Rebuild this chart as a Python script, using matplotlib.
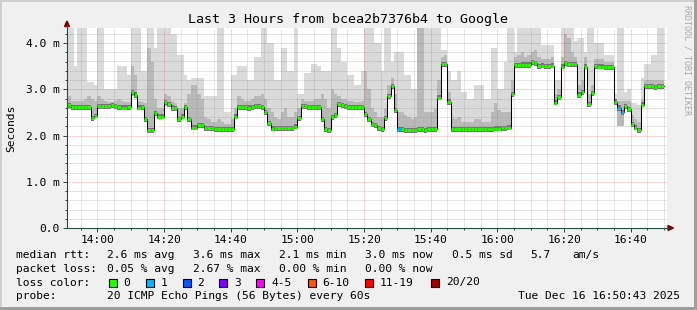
import numpy as np
import matplotlib
matplotlib.use('Agg')
import matplotlib.pyplot as plt
from matplotlib.patches import Rectangle, Polygon
from matplotlib.lines import Line2D

# one value per minute, first minute starts 13:51 (t = -9 min from 14:00)
F = 4.4  # smoke clipped at top of graph

median_ms = [
    2.66, 2.61, 2.61, 2.61, 2.61, 2.61, 2.61, 2.37, 2.42, 2.64,
    2.64, 2.64, 2.64, 2.65, 2.63, 2.62, 2.60, 2.60, 2.61, 2.93,
    2.88, 2.60, 2.61, 2.36, 2.12, 2.12, 2.49, 2.41, 2.41, 2.72,
    2.68, 2.60, 2.59, 2.36, 2.41, 2.61, 2.36, 2.17, 2.17, 2.23,
    2.23, 2.16, 2.16, 2.16, 2.14, 2.14, 2.14, 2.14, 2.14, 2.14,
    2.41, 2.62, 2.62, 2.61, 2.60, 2.62, 2.63, 2.63, 2.62, 2.51,
    2.26, 2.15, 2.16, 2.16, 2.16, 2.16, 2.16, 2.16, 2.19, 2.37,
    2.63, 2.63, 2.62, 2.62, 2.62, 2.62, 2.36, 2.14, 2.11, 2.39,
    2.44, 2.68, 2.65, 2.64, 2.62, 2.61, 2.61, 2.61, 2.62, 2.46,
    2.35, 2.24, 2.22, 2.16, 2.14, 2.37, 2.85, 3.06, 2.55, 2.14,
    2.13, 2.12, 2.12, 2.11, 2.12, 2.14, 2.13, 2.12, 2.13, 2.13,
    2.13, 2.82, 3.55, 3.54, 2.73, 2.13, 2.13, 2.14, 2.14, 2.13,
    2.14, 2.14, 2.13, 2.14, 2.14, 2.14, 2.14, 2.14, 2.15, 2.15,
    2.16, 2.16, 2.17, 2.90, 3.52, 3.52, 3.53, 3.53, 3.53, 3.58,
    3.57, 3.50, 3.51, 3.50, 3.50, 3.51, 2.71, 2.83, 3.49, 3.56,
    3.55, 3.55, 3.54, 2.88, 2.94, 3.49, 2.68, 2.91, 3.50, 3.49,
    3.49, 3.48, 3.48, 3.48, 2.73, 2.60, 2.51, 2.64, 2.57, 2.24,
    2.17, 2.12, 2.67, 3.07, 3.06, 3.06, 3.05, 3.06, 3.06,
]

smoke_top = [
    F, F, 3.5, F, F, F, 3.15, 3.15, 3.1, F,
    F, 3.0, 3.0, 3.0, 3.0, 3.5, 3.5, 3.5, 3.3, F,
    F, F, 3.4, 3.4, F, F, 3.9, F, F, F,
    F, 4.2, 4.2, 3.75, 3.75, 3.3, 3.2, 3.25, 3.25, 3.25,
    3.25, 2.85, 2.85, 2.85, 2.85, F, F, 2.5, 2.5, 3.3,
    3.3, 3.5, 3.5, 3.5, 3.2, 3.2, 3.7, 3.7, F, F,
    4.0, 4.0, 3.2, 3.2, 3.9, 3.9, 3.4, 3.4, F, 2.9,
    2.9, 3.35, 3.35, 3.55, 3.55, 3.5, 3.4, 3.4, 3.4, F,
    F, 3.9, 3.6, 3.6, 3.3, 3.3, 3.1, 3.1, 3.4, F,
    F, F, 4.0, 4.0, 3.4, F, F, 3.6, 3.8, 3.8,
    3.8, 3.3, 3.3, 3.0, 3.0, F, F, F, F, F,
    F, F, 3.85, 3.85, 3.4, 3.2, 3.2, 3.4, 2.95, 2.95,
    2.8, 2.8, 3.1, 3.1, 3.1, 2.8, 2.8, 3.9, 3.9, 3.0,
    3.0, 3.6, F, F, 3.8, F, F, F, F, F,
    F, F, 3.95, 3.95, 3.95, 3.95, 3.2, 3.2, F, F,
    F, F, 4.05, 4.1, 4.1, 3.8, F, F, 4.0, 4.0,
    4.0, 3.75, 3.75, 3.75, 2.9, F, F, 2.95, 3.0, 2.7,
    2.7, 2.65, 3.25, 3.55, 3.55, 3.75, 3.75, F, F,
]

smoke_mid = [
    2.85, 2.75, 2.75, 2.75, 2.75, 2.8, 2.85, 2.8, 2.75, 2.85,
    2.8, 2.75, 2.72, 2.72, 2.75, 2.8, 2.75, 2.72, 2.72, 3.5,
    3.3, 2.75, 2.72, 2.7, 3.9, 3.6, 2.8, 2.6, 2.6, 2.9,
    2.85, 2.75, 2.7, 2.6, 2.6, 2.7, 2.9, 3.1, 3.1, 2.9,
    2.8, 2.4, 2.35, 2.3, 2.3, 2.35, 2.3, 2.25, 2.25, 2.35,
    2.6, 2.85, 2.8, 2.75, 2.75, 2.8, 2.85, 2.85, 2.9, 2.8,
    2.6, 2.5, 2.4, 2.35, 2.5, 2.6, 2.4, 2.4, 2.5, 2.6,
    2.8, 2.75, 2.75, 2.75, 2.8, 2.8, 2.9, 2.8, 2.6, 3.0,
    2.9, 2.85, 2.8, 2.8, 2.75, 2.75, 2.72, 2.72, 2.75, 3.4,
    3.0, 2.6, 2.5, 2.4, 2.4, 2.6, 3.1, 3.25, 2.9, 2.5,
    2.5, 2.45, 2.4, 2.35, 2.4, F, F, 2.5, 2.5, 2.5,
    2.6, 3.2, 3.7, 3.75, 2.95, 2.4, 2.35, 2.4, 2.3, 2.3,
    2.3, 2.3, 2.35, 2.35, 2.3, 2.3, 2.3, 2.5, 2.7, 2.55,
    2.5, 2.5, 2.5, 3.2, 3.7, 3.75, 3.8, 3.7, 3.75, 3.8,
    3.85, 3.7, 3.65, 3.65, 3.65, 3.7, 2.9, 3.0, 3.7, 4.2,
    4.1, 3.8, 3.7, 3.1, 3.2, 3.7, 2.9, 3.1, 3.65, 3.65,
    3.65, 3.6, 3.6, 3.6, 2.8, 2.75, 2.75, 2.75, 2.75, 2.45,
    2.35, 2.3, 2.8, 3.2, 3.2, 3.2, 3.2, 3.2, 3.2,
]

smoke_low = [
    2.58, 2.55, 2.55, 2.55, 2.55, 2.55, 2.55, 2.32, 2.37, 2.58,
    2.58, 2.58, 2.58, 2.59, 2.57, 2.56, 2.55, 2.55, 2.55, 2.85,
    2.82, 2.55, 2.55, 2.30, 2.06, 2.06, 2.42, 2.35, 2.35, 2.64,
    2.62, 2.54, 2.53, 2.30, 2.35, 2.55, 2.30, 2.11, 2.11, 2.16,
    2.16, 2.10, 2.10, 2.10, 2.08, 2.08, 2.08, 2.08, 2.08, 2.08,
    2.35, 2.56, 2.56, 2.55, 2.54, 2.56, 2.57, 2.57, 2.56, 2.45,
    2.20, 2.09, 2.10, 2.10, 2.10, 2.10, 2.10, 2.10, 2.13, 2.31,
    2.57, 2.57, 2.56, 2.56, 2.56, 2.56, 2.30, 2.08, 2.05, 2.33,
    2.38, 2.62, 2.59, 2.58, 2.56, 2.55, 2.55, 2.55, 2.56, 2.40,
    2.29, 2.18, 2.16, 2.10, 2.08, 2.31, 2.79, 3.00, 2.49, 2.08,
    2.07, 2.06, 2.06, 2.05, 2.06, 2.08, 2.07, 2.06, 2.07, 2.07,
    2.07, 2.76, 3.49, 3.48, 2.67, 2.07, 2.07, 2.08, 2.08, 2.07,
    2.08, 2.08, 2.07, 2.08, 2.08, 2.08, 2.08, 2.08, 2.09, 2.09,
    2.10, 2.10, 2.11, 2.84, 3.46, 3.46, 3.47, 3.47, 3.47, 3.52,
    3.51, 3.44, 3.45, 3.44, 3.44, 3.45, 2.65, 2.77, 3.43, 3.50,
    3.49, 3.49, 3.48, 2.82, 2.88, 3.43, 2.62, 2.85, 3.44, 3.43,
    3.43, 3.42, 3.42, 3.42, 2.67, 2.20, 2.20, 2.58, 2.51, 2.18,
    2.11, 2.06, 2.61, 3.01, 3.00, 3.00, 2.99, 3.00, 3.00,
]

# minutes (index) where 1 of 20 pings was lost
loss_1_of_20 = [99, 165, 166]

tick_times = [0, 20, 40, 60, 80, 100, 120, 140, 160]
tick_labels = ['14:00', '14:20', '14:40', '15:00', '15:20', '15:40', '16:00', '16:20', '16:40']
y_ticks = [0, 1, 2, 3, 4]
y_labels = ['0.0', '1.0 m', '2.0 m', '3.0 m', '4.0 m']

loss_names = ['0', '1', '2', '3', '4-5', '6-10', '11-19', '20/20']
loss_colors = ['#26ff00', '#00b8ff', '#0059ff', '#7e00ff', '#ff00ff', '#ff5500', '#ff0000', '#a00000']

W, H = 697, 310
MONO = 'DejaVu Sans Mono'

fig = plt.figure(figsize=(W / 100, H / 100), dpi=100, facecolor='#f0f0f0')


def fx(x):
    return x / W


def fy(y):
    return 1 - y / H


ax = fig.add_axes([fx(66.5), fy(228), 600 / W, 200 / H])
ax.set_facecolor('white')
ax.set_xlim(-9.28, 170.72)
ax.set_ylim(0, 200 / 46.25)
for s in ax.spines.values():
    s.set_visible(False)

n = len(median_ms)
edges = np.arange(n + 1) - 9.0
med = np.array(median_ms)
low = np.array(smoke_low)


def ext(a):
    a = np.asarray(a, dtype=float)
    return np.append(a, a[-1])


# smoke
ax.fill_between(edges, ext(low), ext(smoke_top), step='post', color='#dadada', lw=0, zorder=1)
ax.fill_between(edges, ext(low), ext(smoke_mid), step='post', color='#b9b9b9', lw=0, zorder=2)
ax.fill_between(edges, ext(np.maximum(low, med - 0.06)), ext(med + 0.05), step='post',
                color='#757575', lw=0, zorder=3)

# grid (drawn over the smoke, like rrdtool)
minor_c = (0x8f / 255, 0x8f / 255, 0x8f / 255, 0.46)
major_c = (0xde / 255, 0x50 / 255, 0x50 / 255, 0.46)
for t in np.arange(-5, 171, 5):
    if t % 20:
        ax.axvline(t, color=minor_c, lw=0.72, ls=(0, (1, 1)), zorder=4)
for v in np.arange(0.2, 4.31, 0.2):
    if abs(v - round(v)) > 0.01:
        ax.axhline(v, color=minor_c, lw=0.72, ls=(0, (1, 1)), zorder=4)
for t in tick_times:
    ax.axvline(t, color=major_c, lw=0.72, ls=(0, (1, 1)), zorder=4)
for v in y_ticks[1:]:
    ax.axhline(v, color=major_c, lw=0.72, ls=(0, (1, 1)), zorder=4)

# median line
ax.step(edges, ext(med), where='post', color='black', lw=0.75, zorder=5)
seg_colors = [loss_colors[1] if i in loss_1_of_20 else loss_colors[0] for i in range(n)]
ax.hlines(med, edges[:-1], edges[1:], colors=seg_colors, lw=2.0, zorder=6, capstyle='butt')

# ticks
ax.set_xticks(tick_times)
ax.set_xticklabels(tick_labels, fontfamily=MONO, fontsize=8.1)
ax.set_xticks(np.arange(-5, 171, 5), minor=True)
ax.set_yticks(y_ticks)
ax.set_yticklabels(y_labels, fontfamily=MONO, fontsize=8.1)
ax.set_yticks(np.arange(0, 4.31, 0.2), minor=True)
ax.tick_params(which='major', length=3, width=0.72, color='#2c4d43', pad=2)
ax.tick_params(which='minor', length=1.5, width=0.72, color='#2c4d43')

# axes with arrows
axis_c = '#2c4d43'
fig.add_artist(Line2D([fx(67), fx(67)], [fy(228), fy(25)], color=axis_c, lw=0.8))
fig.add_artist(Line2D([fx(67), fx(669)], [fy(228), fy(228)], color=axis_c, lw=0.8))
fig.add_artist(Polygon([[fx(64.5), fy(26.5)], [fx(69.5), fy(26.5)], [fx(67), fy(21)]],
                       closed=True, color='#7f0000', transform=fig.transFigure))
fig.add_artist(Polygon([[fx(668), fy(225.5)], [fx(668), fy(230.5)], [fx(673.5), fy(228)]],
                       closed=True, color='#7f0000', transform=fig.transFigure))

# frame shading
fig.add_artist(Rectangle((0, fy(2)), 1, 2 / H, transform=fig.transFigure, color='#cfcfcf', lw=0))
fig.add_artist(Rectangle((0, 0), 2 / W, 1, transform=fig.transFigure, color='#cfcfcf', lw=0))
fig.add_artist(Rectangle((0, 0), 1, 3 / H, transform=fig.transFigure, color='#9e9e9e', lw=0))
fig.add_artist(Rectangle((fx(694), 0), 3 / W, 1, transform=fig.transFigure, color='#9e9e9e', lw=0))

# texts
fig.text(fx(347.5), fy(19), 'Last 3 Hours from bcea2b7376b4 to Google', ha='center', va='center',
         fontfamily=MONO, fontsize=9.6)
fig.text(fx(11), fy(128), 'Seconds', rotation=90, ha='center', va='center', fontfamily=MONO, fontsize=8.1)
fig.text(fx(686.5), fy(60), 'RRDTOOL / TOBI OETIKER', rotation=270, ha='center', va='center',
         fontfamily=MONO, fontsize=6, color='#a8a8a8')


def legend_text(x, y, s):
    fig.text(fx(x), fy(y), s, ha='left', va='center', fontfamily=MONO, fontsize=8.1)


legend_text(16, 255, 'median rtt:')
for x, s in zip([107, 193, 279, 365, 452, 530, 572],
                ['2.6 ms avg', '3.6 ms max', '2.1 ms min', '3.0 ms now', '0.5 ms sd', '5.7', 'am/s']):
    legend_text(x, 255, s)
legend_text(16, 268.5, 'packet loss:')
for x, s in zip([107, 193, 279, 365], ['0.05 % avg', '2.67 % max', '0.00 % min', '0.00 % now']):
    legend_text(x, 268.5, s)
legend_text(16, 282.5, 'loss color:')
box_x = [108.5, 146, 182.5, 219, 256, 307.5, 365, 431]
for bx, name, c in zip(box_x, loss_names, loss_colors):
    fig.add_artist(Rectangle((fx(bx), fy(287)), 8 / W, 8.5 / H, transform=fig.transFigure,
                             facecolor=c, edgecolor='black', lw=0.8))
    legend_text(bx + 15, 282.5, name)
legend_text(16, 296, 'probe:')
legend_text(107, 296, '20 ICMP Echo Pings (56 Bytes) every 60s')
fig.text(fx(680), fy(296), 'Tue Dec 16 16:50:43 2025', ha='right', va='center', fontfamily=MONO, fontsize=8.1)

fig.savefig('out.png', dpi=100, facecolor=fig.get_facecolor())
